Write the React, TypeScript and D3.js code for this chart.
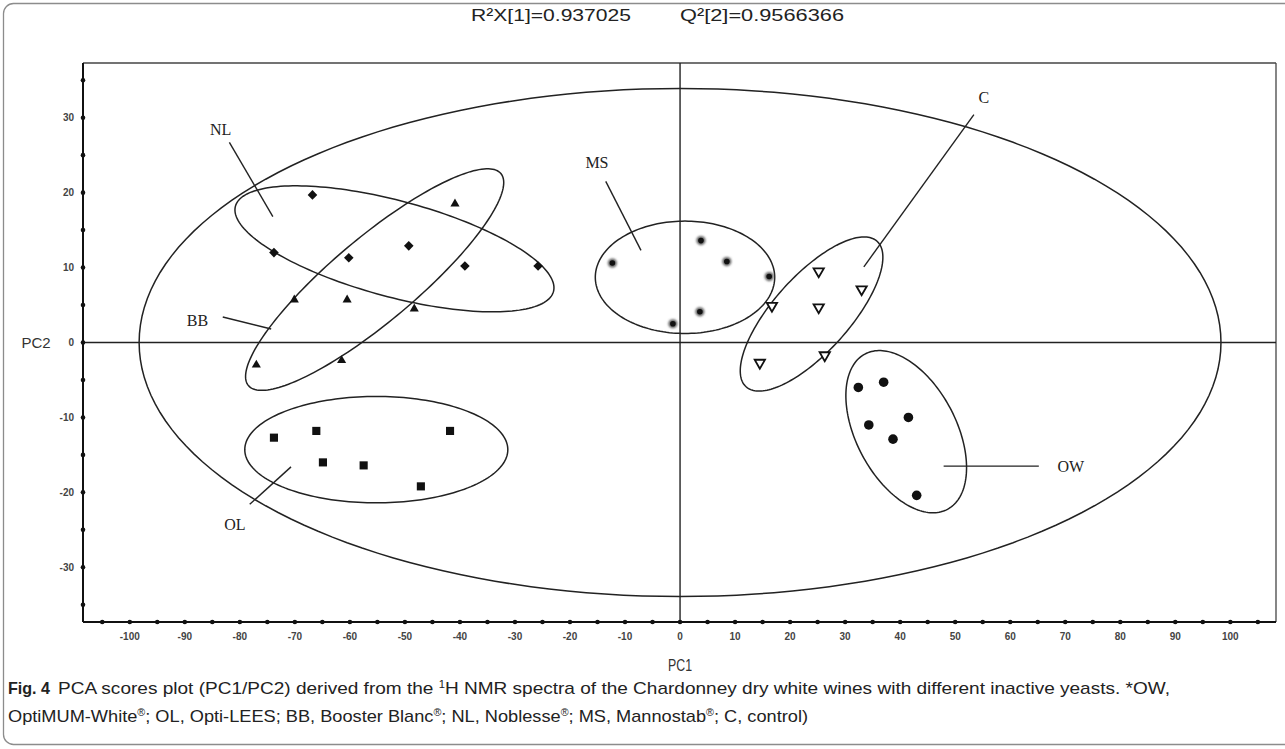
import React from "react";
import * as d3 from "d3";

// ---------- axis tick labels ----------
const xTickLabels = [-100, -90, -80, -70, -60, -50, -40, -30, -20, -10, 0, 10, 20, 30, 40, 50, 60, 70, 80, 90, 100];
const yTickLabels = [-30, -20, -10, 0, 10, 20, 30];

// ---------- scores (PC1 / PC2) ----------
const nlPC1 = [-66.8, -73.8, -60.2, -49.3, -39.1, -25.8];
const nlPC2 = [19.7, 12.0, 11.3, 12.9, 10.2, 10.2];
const bbPC1 = [-40.9, -70.1, -60.5, -48.3, -77.0, -61.5];
const bbPC2 = [18.5, 5.7, 5.7, 4.5, -3.0, -2.4];
const olPC1 = [-73.8, -66.1, -64.9, -57.5, -41.8, -47.1];
const olPC2 = [-12.7, -11.8, -16.0, -16.4, -11.8, -19.2];
const msPC1 = [-12.3, 3.8, 8.5, 16.2, 3.6, -1.3];
const msPC2 = [10.6, 13.6, 10.8, 8.8, 4.1, 2.5];
const cPC1 = [25.2, 33.0, 16.7, 25.2, 26.3, 14.5];
const cPC2 = [9.5, 7.1, 4.9, 4.7, -1.7, -2.7];
const owPC1 = [32.4, 37.0, 41.5, 34.3, 38.7, 43.0];
const owPC2 = [-6.0, -5.3, -10.0, -11.0, -12.9, -20.4];

// ---------- ellipses: centre + two conjugate semi-axis vectors (score units) ----------
const ellipseNames = ["T2", "NL", "BB", "OL", "MS", "C", "OW"];
const ellipseCX = [0, -51.9, -55.5, -55.2, 0.9, 23.9, 41.1];
const ellipseCY = [0, 12.5, 8.4, -14.3, 8.7, 3.8, -11.9];
const ellipseUX = [98.3, 28.9, 22.94, 23.9, 16.3, 11.9, 7.5];
const ellipseUY = [0, -5.69, 14.15, 0, 0, 9.71, -10.36];
const ellipseVX = [0, -2.25, 4.9, 0, 0, 5.13, -8.0];
const ellipseVY = [33.9, -6.19, -4.29, 7.1, 7.5, -3.39, -3.13];

// ---------- group labels and leader lines (score units) ----------
const labelNames = ["NL", "BB", "MS", "OL", "OW", "C"];
const labelPC1 = [-83.5, -87.7, -15.1, -80.9, 71.0, 55.2];
const labelPC2 = [28.4, 2.9, 24.0, -24.3, -16.5, 32.7];
const leaderX1 = [-81.9, -83.1, -13.5, -70.7, 47.9, 33.4];
const leaderY1 = [26.7, 3.4, 21.5, -16.6, -16.5, 10.1];
const leaderX2 = [-74.0, -74.3, -7.1, -78.2, 65.2, 53.4];
const leaderY2 = [16.8, 1.8, 12.3, -21.6, -16.5, 30.4];

const titleLeft = "R²X[1]=0.937025";
const titleRight = "Q²[2]=0.9566366";

const W = 1285;
const H = 749;

export default function App() {
  const x = d3.scaleLinear().domain([-108.5, 108.3]).range([83, 1276]);
  const y = d3.scaleLinear().domain([-37.3, 37.3]).range([622, 63]);

  const minorX = d3.range(-105, 106, 5);
  const minorY = d3.range(-35, 36, 5);

  const ellipse = (i: number) => {
    const pts: [number, number][] = d3.range(0, 180).map((k) => {
      const t = (k / 180) * 2 * Math.PI;
      return [
        x(ellipseCX[i] + ellipseUX[i] * Math.cos(t) + ellipseVX[i] * Math.sin(t)),
        y(ellipseCY[i] + ellipseUY[i] * Math.cos(t) + ellipseVY[i] * Math.sin(t)),
      ];
    });
    return d3.line().curve(d3.curveLinearClosed)(pts) as string;
  };

  const square = d3.symbol().type(d3.symbolSquare);
  const tri = d3.symbol().type(d3.symbolTriangle);
  const diamondPath = square.size(46)() as string;
  const squarePath = square.size(66)() as string;
  const triPath = tri.size(36)() as string;
  const triDownPath = tri.size(46)() as string;

  const axisFont = "'Liberation Sans', Arial, sans-serif";
  const narrow = "'Liberation Sans Narrow', 'Liberation Sans', Arial, sans-serif";
  const serif = "'Liberation Serif', 'Times New Roman', serif";

  return (
    <div style={{ position: "absolute", left: 0, top: 0 }}>
      <svg width={W} height={H} style={{ display: "block", background: "#fff" }}>
        <defs>
          <filter id="soft" x="-1" y="-1" width="3" height="3">
            <feGaussianBlur stdDeviation="0.9" />
          </filter>
        </defs>
        {/* outer figure border */}
        <rect x={3.5} y={3.5} width={1320} height={741} rx={10} fill="none" stroke="#8c8c8c" strokeWidth={1.3} />

        {/* title */}
        <text x={471} y={21} fontFamily={narrow} fontSize={17} fill="#222" textLength={160} lengthAdjust="spacingAndGlyphs">
          {titleLeft}
        </text>
        <text x={680} y={21} fontFamily={narrow} fontSize={17} fill="#222" textLength={164} lengthAdjust="spacingAndGlyphs">
          {titleRight}
        </text>

        {/* frame */}
        <line x1={x(-108.5)} x2={x(108.3)} y1={y(37.3)} y2={y(37.3)} stroke="#444" strokeWidth={1.3} />
        <line x1={x(108.3)} x2={x(108.3)} y1={y(37.3)} y2={y(-37.3)} stroke="#444" strokeWidth={1.3} />
        <line x1={x(-108.5)} x2={x(-108.5)} y1={y(37.3)} y2={y(-37.3)} stroke="#111" strokeWidth={2} />
        <line x1={x(-108.5)} x2={x(108.3)} y1={y(-37.3)} y2={y(-37.3)} stroke="#111" strokeWidth={2} />

        {/* origin lines */}
        <line x1={x(-108.5)} x2={x(108.3)} y1={y(0)} y2={y(0)} stroke="#222" strokeWidth={1.4} />
        <line x1={x(0)} x2={x(0)} y1={y(37.3)} y2={y(-37.3)} stroke="#222" strokeWidth={1.4} />

        {/* tick dots */}
        {minorX.map((v) => (
          <circle key={"tx" + v} cx={x(v)} cy={y(-37.3)} r={2.3} fill="#111" />
        ))}
        {minorY.map((v) => (
          <circle key={"ty" + v} cx={x(-108.5)} cy={y(v)} r={2.3} fill="#111" />
        ))}

        {/* tick labels */}
        {xTickLabels.map((v) => (
          <text key={"lx" + v} x={x(v)} y={640} textAnchor="middle" fontFamily={axisFont} fontWeight="bold" fontSize={10} fill="#444">
            {v}
          </text>
        ))}
        {yTickLabels.map((v) => (
          <text key={"ly" + v} x={74} y={y(v) + 3.5} textAnchor="end" fontFamily={axisFont} fontWeight="bold" fontSize={10} fill="#444">
            {v}
          </text>
        ))}

        {/* axis titles */}
        <text x={36} y={y(0) + 5} textAnchor="middle" fontFamily={axisFont} fontSize={15} fill="#333">
          PC2
        </text>
        <text x={x(0)} y={671} textAnchor="middle" fontFamily={narrow} fontSize={17} fill="#333" textLength={24} lengthAdjust="spacingAndGlyphs">
          PC1
        </text>

        {/* ellipses */}
        {ellipseNames.map((n, i) => (
          <path key={"e" + n} d={ellipse(i)} fill="none" stroke="#222" strokeWidth={1.5} />
        ))}

        {/* leader lines and labels */}
        {labelNames.map((n, i) => (
          <g key={"lab" + n}>
            <line x1={x(leaderX1[i])} y1={y(leaderY1[i])} x2={x(leaderX2[i])} y2={y(leaderY2[i])} stroke="#222" strokeWidth={1.4} />
            <text x={x(labelPC1[i])} y={y(labelPC2[i]) + 5.5} textAnchor="middle" fontFamily={serif} fontSize={16} fill="#222">
              {n}
            </text>
          </g>
        ))}

        {/* NL diamonds */}
        {nlPC1.map((v, i) => (
          <path key={"nl" + i} d={diamondPath} transform={`translate(${x(v)},${y(nlPC2[i])}) rotate(45)`} fill="#111" />
        ))}
        {/* BB triangles */}
        {bbPC1.map((v, i) => (
          <path key={"bb" + i} d={triPath} transform={`translate(${x(v)},${y(bbPC2[i])})`} fill="#111" />
        ))}
        {/* OL squares */}
        {olPC1.map((v, i) => (
          <path key={"ol" + i} d={squarePath} transform={`translate(${x(v)},${y(olPC2[i])})`} fill="#111" />
        ))}
        {/* MS soft dots */}
        {msPC1.map((v, i) => (
          <g key={"ms" + i}>
            <circle cx={x(v)} cy={y(msPC2[i])} r={4.6} fill="#666" filter="url(#soft)" />
            <circle cx={x(v)} cy={y(msPC2[i])} r={2.8} fill="#111" />
          </g>
        ))}
        {/* C open down-triangles */}
        {cPC1.map((v, i) => (
          <path key={"c" + i} d={triDownPath} transform={`translate(${x(v)},${y(cPC2[i])}) rotate(180)`} fill="#fff" stroke="#111" strokeWidth={1.8} />
        ))}
        {/* OW dots */}
        {owPC1.map((v, i) => (
          <circle key={"ow" + i} cx={x(v)} cy={y(owPC2[i])} r={4.8} fill="#111" />
        ))}

        {/* caption */}
        <text x={8} y={694} fontFamily={narrow} fontSize={17} fontWeight="bold" fill="#222" textLength={42} lengthAdjust="spacingAndGlyphs">
          Fig. 4
        </text>
        <text x={58} y={694} fontFamily={narrow} fontSize={17} fill="#222" textLength={1112} lengthAdjust="spacingAndGlyphs">
          PCA scores plot (PC1/PC2) derived from the <tspan fontSize={10} dy={-6}>1</tspan><tspan dy={6}>H NMR spectra of the Chardonney dry white wines with different inactive yeasts. *OW,</tspan>
        </text>
        <text x={8} y={722} fontFamily={narrow} fontSize={17} fill="#222" textLength={800} lengthAdjust="spacingAndGlyphs">
          OptiMUM-White<tspan fontSize={10} dy={-6}>®</tspan><tspan dy={6}>; OL, Opti-LEES; BB, Booster Blanc</tspan><tspan fontSize={10} dy={-6}>®</tspan><tspan dy={6}>; NL, Noblesse</tspan><tspan fontSize={10} dy={-6}>®</tspan><tspan dy={6}>; MS, Mannostab</tspan><tspan fontSize={10} dy={-6}>®</tspan><tspan dy={6}>; C, control)</tspan>
        </text>
      </svg>
    </div>
  );
}
